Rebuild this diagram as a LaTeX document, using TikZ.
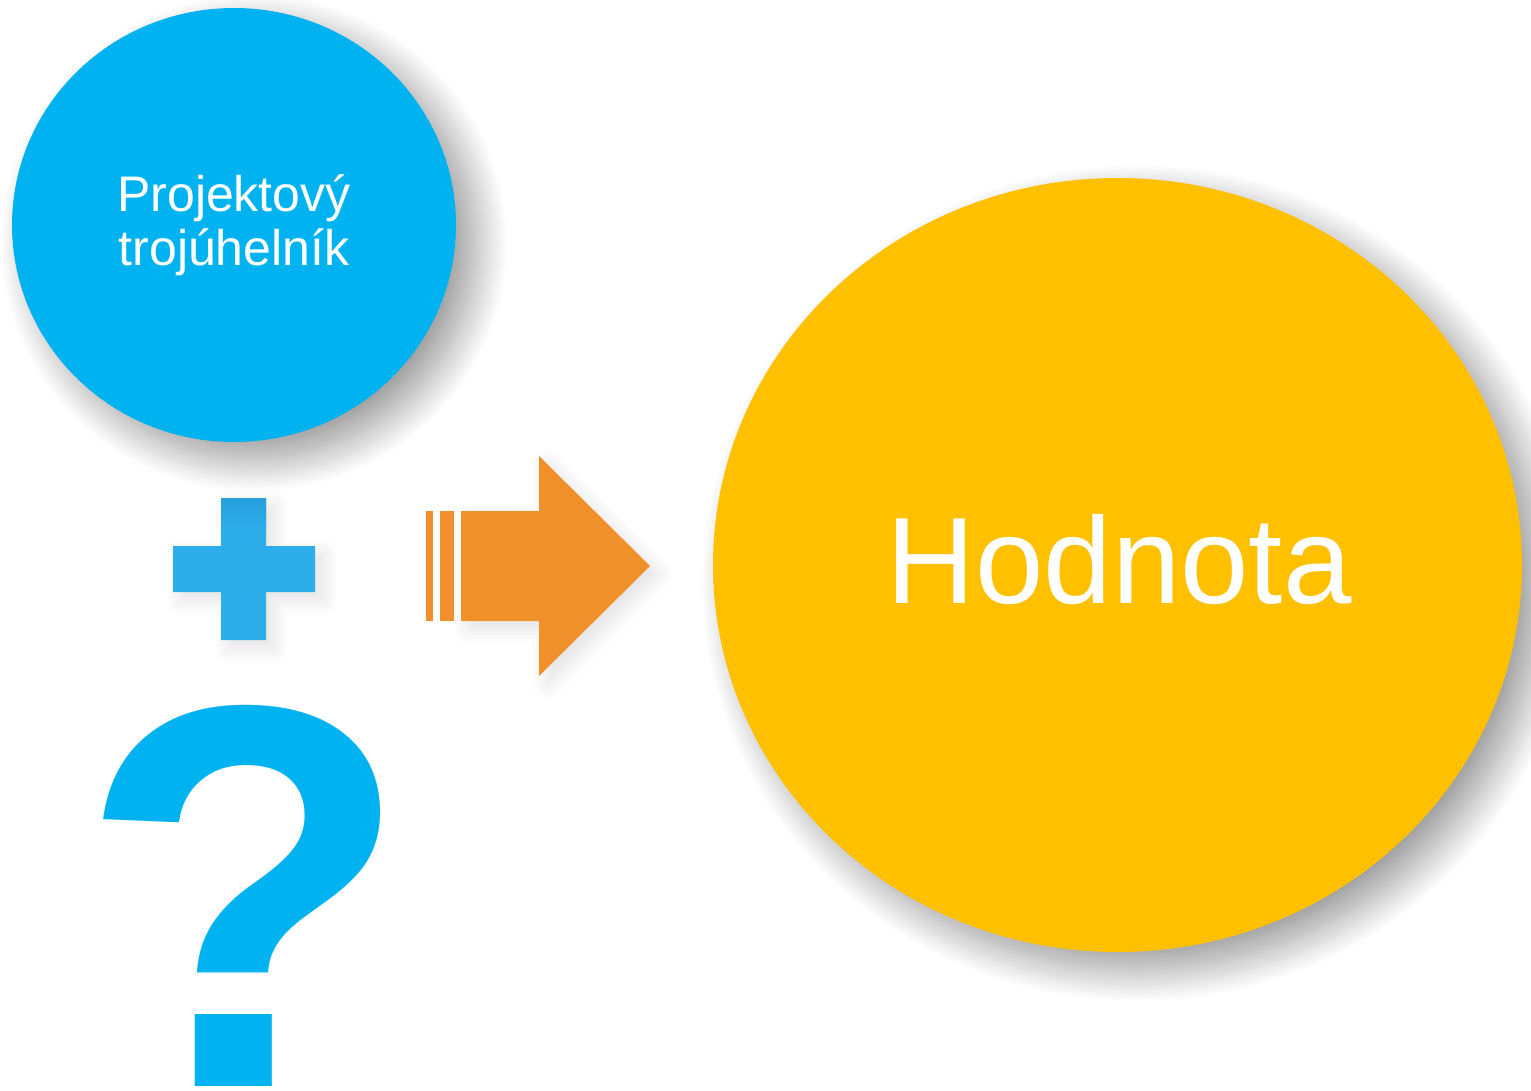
\documentclass[tikz,border=0pt]{standalone}
\usepackage{fontspec}
\setmainfont{Liberation Sans}
\usetikzlibrary{shapes.geometric,shadows.blur}
\definecolor{cblue}{RGB}{0,178,239}
\definecolor{pblue}{RGB}{45,174,235}
\definecolor{pblueTop}{RGB}{38,160,220}
\definecolor{corange}{RGB}{240,144,42}
\definecolor{cgold}{RGB}{255,192,0}
\tikzset{
  bubble/.style={ellipse, inner sep=0pt, text=white, align=center,
    blur shadow={shadow xshift=20pt, shadow yshift=-18pt, shadow blur radius=32pt,
      shadow blur steps=25, shadow opacity=40}},
  softshadow/.style={blur shadow={shadow xshift=8pt, shadow yshift=-8pt, shadow blur radius=16pt,
      shadow blur steps=12, shadow opacity=12}}
}
\begin{document}
\begin{tikzpicture}[x=1pt,y=-1pt]
\useasboundingbox (0,0) rectangle (1531,1090);
% blue circle
\node (tri) [bubble, fill=cblue, minimum width=444pt, minimum height=434pt,
  font=\fontsize{50}{54}\selectfont] at (234,225) {Projektový\\trojúhelník};
% gold ellipse
\node (val) [bubble, fill=cgold, minimum width=809pt, minimum height=774pt] at (1117.5,565) {};
\node (valtext) [text=white, inner sep=0pt, font=\fontsize{123}{130}\selectfont] at (1119,560) {Hodnota};
% plus
\fill[pblue, softshadow] (221,498) -- (266,498) -- (266,546) -- (315,546) -- (315,592) -- (266,592)
  -- (266,640) -- (221,640) -- (221,592) -- (173,592) -- (173,546) -- (221,546) -- cycle;
\shade[top color=pblueTop, bottom color=pblue] (221,498) rectangle (266,530);
% arrow
\fill[corange, softshadow] (461,511) -- (539,511) -- (539,456) -- (650,566) -- (539,676) -- (539,621) -- (461,621) -- cycle;
\fill[corange] (426,511) rectangle (433,621);
\fill[corange] (440,511) rectangle (454,621);
% question mark
\node (q) [anchor=base, inner sep=0pt, text=cblue, font=\bfseries\fontsize{546}{546}\selectfont] at (245,1086) {?};
\end{tikzpicture}
\end{document}
